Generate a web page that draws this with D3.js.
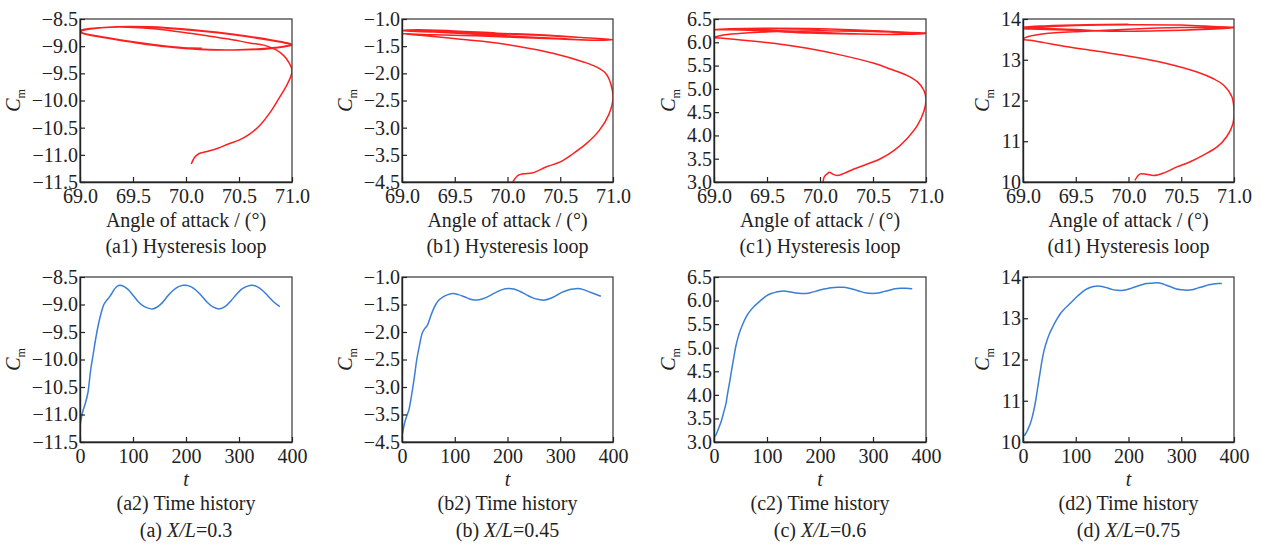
<!DOCTYPE html>
<html>
<head>
<meta charset="utf-8">
<script src="https://cdn.jsdelivr.net/npm/d3@7"></script>
<style>
  body { margin: 0; background: #fff; }
  #chart text { fill: #222; }
</style>
</head>
<body>
<svg id="chart" width="1262" height="547"></svg>
<script>
// ---- tick values / labels ----
const alphaTicks = [69, 69.5, 70, 70.5, 71];
const alphaTickLabels = ["69.0", "69.5", "70.0", "70.5", "71.0"];
const tTicks = [0, 100, 200, 300, 400];
const tTickLabels = ["0", "100", "200", "300", "400"];

const aTicks = [-8.5, -9, -9.5, -10, -10.5, -11, -11.5];
const aTickLabels = ["\u22128.5", "\u22129.0", "\u22129.5", "\u221210.0", "\u221210.5", "\u221211.0", "\u221211.5"];
const bTicks = [-1, -1.5, -2, -2.5, -3, -3.5, -4];
const bTickLabels = ["\u22121.0", "\u22121.5", "\u22122.0", "\u22122.5", "\u22123.0", "\u22123.5", "\u22124.5"];
const cTicks = [6.5, 6, 5.5, 5, 4.5, 4, 3.5, 3];
const cTickLabels = ["6.5", "6.0", "5.5", "5.0", "4.5", "4.0", "3.5", "3.0"];
const dTicks = [14, 13, 12, 11, 10];
const dTickLabels = ["14", "13", "12", "11", "10"];

const panelLetters = ["a", "b", "c", "d"];
const xOverL = ["0.3", "0.45", "0.6", "0.75"];

// ---- hysteresis loops: [angle of attack, Cm] ----
const loopA = [
  [70.05,-11.17],[70.08,-11.05],[70.12,-10.98],[70.2,-10.94],[70.3,-10.88],[70.4,-10.8],[70.5,-10.73],
  [70.6,-10.62],[70.7,-10.45],[70.8,-10.2],[70.88,-9.95],[70.95,-9.72],[70.99,-9.55],[71.0,-9.44],
  [70.97,-9.3],[70.92,-9.17],[70.85,-9.07],[70.75,-8.99],[70.6,-8.94],[70.4,-8.87],[70.2,-8.81],
  [69.95,-8.74],[69.7,-8.68],[69.45,-8.65],[69.2,-8.66],[69.05,-8.7],[69.0,-8.73],
  [69.03,-8.77],[69.19,-8.83],[69.5,-8.93],[69.82,-9.01],[70.13,-9.06],[70.45,-9.07],[70.76,-9.04],[70.93,-9.0],[71.0,-8.97],
  [70.93,-8.93],[70.76,-8.87],[70.45,-8.78],[70.13,-8.71],[69.82,-8.66],[69.5,-8.64],[69.19,-8.66],[69.04,-8.69],[69.0,-8.72],
  [69.03,-8.76],[69.19,-8.82],[69.5,-8.92],[69.82,-9.0],[70.13,-9.05],[70.45,-9.07],[70.76,-9.05],[70.93,-9.01],[71.0,-8.98],
  [70.93,-8.94],[70.76,-8.88],[70.45,-8.79],[70.13,-8.72],[69.82,-8.67],[69.5,-8.64],[69.19,-8.66],[69.04,-8.69],[69.0,-8.73],
  [69.03,-8.77],[69.19,-8.83],[69.5,-8.93],[69.82,-9.01],[70.15,-9.04]
];
const loopB = [
  [70.05,-4.0],[70.1,-3.88],[70.15,-3.85],[70.24,-3.83],[70.37,-3.72],[70.5,-3.63],[70.62,-3.48],
  [70.75,-3.29],[70.87,-3.05],[70.96,-2.76],[71.0,-2.46],[70.98,-2.2],[70.93,-2.0],[70.84,-1.88],
  [70.72,-1.79],[70.43,-1.63],[70.12,-1.51],[69.8,-1.42],[69.49,-1.36],[69.17,-1.3],[69.0,-1.27],
  [69.3,-1.29],[69.7,-1.31],[70.1,-1.34],[70.5,-1.37],[70.8,-1.39],[71.0,-1.38],
  [70.7,-1.34],[70.3,-1.3],[69.9,-1.27],[69.5,-1.23],[69.15,-1.21],[69.0,-1.22],
  [69.3,-1.24],[69.7,-1.28],[70.1,-1.32],[70.5,-1.36],[70.85,-1.39],[71.0,-1.38],
  [70.7,-1.34],[70.3,-1.29],[69.9,-1.26],[69.5,-1.22],[69.15,-1.2],[69.0,-1.21],
  [69.3,-1.23],[69.65,-1.27],[70.0,-1.31]
];
const loopC = [
  [70.03,3.0],[70.04,3.11],[70.07,3.18],[70.09,3.21],[70.12,3.17],[70.16,3.14],[70.22,3.18],[70.32,3.28],
  [70.44,3.38],[70.57,3.5],[70.7,3.68],[70.82,3.93],[70.92,4.22],[70.98,4.52],[71.0,4.76],[70.98,4.97],
  [70.92,5.15],[70.82,5.29],[70.67,5.42],[70.51,5.55],[70.19,5.73],[69.88,5.87],[69.56,5.98],[69.25,6.05],
  [69.06,6.09],[69.0,6.1],
  [69.1,6.16],[69.3,6.2],[69.6,6.23],[70.0,6.25],[70.5,6.23],[70.85,6.2],[71.0,6.19],
  [70.8,6.17],[70.4,6.18],[70.0,6.21],[69.5,6.26],[69.15,6.28],[69.0,6.27],
  [69.15,6.29],[69.5,6.3],[70.0,6.29],[70.5,6.25],[70.85,6.21],[71.0,6.2],
  [70.7,6.17],[70.3,6.18],[69.9,6.2],[69.5,6.24],[69.15,6.27],[69.0,6.27],
  [69.2,6.29],[69.6,6.29],[70.0,6.28]
];
const loopD = [
  [70.06,10.04],[70.08,10.12],[70.11,10.2],[70.17,10.19],[70.24,10.16],[70.33,10.22],[70.46,10.37],
  [70.58,10.49],[70.71,10.66],[70.84,10.86],[70.93,11.11],[70.99,11.43],[71.0,11.76],[70.98,12.09],
  [70.9,12.38],[70.8,12.54],[70.65,12.7],[70.36,12.91],[70.05,13.07],[69.73,13.2],[69.42,13.32],
  [69.2,13.42],[69.07,13.48],[69.0,13.5],
  [69.05,13.57],[69.2,13.64],[69.6,13.7],[70.0,13.75],[70.5,13.79],[70.85,13.79],[71.0,13.78],
  [70.7,13.74],[70.3,13.71],[69.9,13.7],[69.5,13.72],[69.15,13.75],[69.0,13.76],
  [69.15,13.8],[69.5,13.84],[70.0,13.86],[70.5,13.85],[70.85,13.81],[71.0,13.8],
  [70.7,13.75],[70.3,13.71],[69.9,13.7],[69.5,13.74],[69.15,13.78],[69.0,13.8],
  [69.2,13.83],[69.6,13.86],[70.0,13.87]
];

// ---- time histories: [t, Cm] ----
const histA = [
  [0,-11.2],[5,-10.95],[10,-10.8],[15,-10.6],[20,-10.2],[25,-9.9],[30,-9.6],[35,-9.35],[40,-9.15],
  [45,-9.0],[50,-8.93],[55,-8.87],[60,-8.8],[65,-8.72],[70,-8.67],[75,-8.65],[80,-8.66],[90,-8.72],
  [100,-8.83],[110,-8.95],[120,-9.03],[130,-9.07],[137,-9.08],[145,-9.05],[155,-8.97],[165,-8.85],
  [175,-8.75],[185,-8.68],[195,-8.65],[200,-8.65],[210,-8.68],[220,-8.75],[230,-8.85],[240,-8.96],
  [250,-9.04],[262,-9.08],[275,-9.03],[285,-8.93],[295,-8.82],[305,-8.72],[315,-8.67],[325,-8.65],
  [335,-8.68],[345,-8.75],[355,-8.85],[365,-8.95],[377,-9.04]
];
const histB = [
  [0,-3.9],[5,-3.65],[10,-3.5],[13,-3.42],[19,-3.1],[24,-2.78],[28,-2.5],[33,-2.25],[38,-2.03],
  [43,-1.94],[48,-1.88],[53,-1.75],[58,-1.62],[64,-1.5],[70,-1.42],[78,-1.36],[87,-1.32],[97,-1.3],
  [107,-1.32],[118,-1.36],[128,-1.4],[138,-1.42],[148,-1.41],[160,-1.37],[170,-1.32],[180,-1.27],
  [190,-1.23],[201,-1.21],[212,-1.22],[223,-1.26],[235,-1.32],[248,-1.38],[260,-1.41],[270,-1.42],
  [281,-1.39],[292,-1.34],[303,-1.28],[314,-1.24],[324,-1.22],[333,-1.21],[344,-1.23],[355,-1.27],
  [366,-1.31],[377,-1.35]
];
const histC = [
  [2,3.12],[4,3.16],[8,3.27],[14,3.45],[18,3.62],[22.5,3.81],[26,4.05],[30,4.3],[34,4.58],[37.5,4.8],
  [41,5.02],[45.6,5.23],[50,5.38],[55,5.52],[61,5.66],[67.5,5.77],[75,5.87],[83,5.95],[91,6.03],
  [99,6.1],[108,6.15],[117.5,6.18],[127,6.2],[136,6.2],[145,6.18],[155,6.16],[165,6.15],[174,6.15],
  [183,6.17],[192.5,6.2],[202,6.23],[211,6.25],[222,6.27],[233,6.28],[244,6.28],[255,6.26],[266,6.23],
  [277,6.19],[288,6.16],[299,6.15],[310,6.16],[320,6.19],[331,6.22],[342,6.25],[352,6.26],[361,6.26],
  [374,6.25]
];
const histD = [
  [2.5,10.15],[5,10.2],[7.6,10.26],[11,10.36],[13.9,10.45],[17,10.58],[20,10.74],[24,11.0],[27.8,11.31],
  [32,11.65],[36,11.97],[40,12.22],[45.4,12.46],[51,12.65],[58,12.83],[64,12.97],[70.7,13.11],[78,13.22],
  [86.4,13.32],[94,13.42],[102,13.52],[110,13.61],[118,13.69],[126,13.74],[134,13.77],[142,13.78],
  [150,13.77],[159,13.74],[168.5,13.7],[178,13.68],[187,13.67],[196,13.69],[206,13.73],[215,13.77],
  [225,13.81],[234,13.84],[244,13.85],[254,13.86],[263,13.84],[272,13.8],[282,13.75],[291,13.71],
  [301,13.69],[310,13.68],[320,13.69],[331,13.73],[342,13.77],[352,13.81],[361,13.83],[370,13.84],
  [377,13.84]
];

// ---- layout ----
const cols = [[80, 292], [402, 613], [714, 926], [1023, 1234]];
const rows = [[19, 182], [277, 442]];
const panels = [
  { loop: loopA, hist: histA, dom: [-11.5, -8.5], ticks: aTicks, labels: aTickLabels },
  { loop: loopB, hist: histB, dom: [-4, -1],      ticks: bTicks, labels: bTickLabels },
  { loop: loopC, hist: histC, dom: [3, 6.5],      ticks: cTicks, labels: cTickLabels },
  { loop: loopD, hist: histD, dom: [10, 14],      ticks: dTicks, labels: dTickLabels }
];

const svg = d3.select("#chart");
const serif = "'Liberation Serif', 'Times New Roman', serif";
const tickFont = 20, titleFont = 20;

function addText(sel) {
  return sel.append("text").style("font-family", serif).style("fill", "#222");
}

function drawPlot(col, row, xDom, xTicks, xLabels, p, data, color) {
  let [x0, x1] = cols[col];
  let [y0, y1] = rows[row];
  let x = d3.scaleLinear().domain(xDom).range([x0, x1]);
  let y = d3.scaleLinear().domain(p.dom).range([y1, y0]);
  let g = svg.append("g");

  let clipId = "clip" + col + "_" + row;
  g.append("clipPath").attr("id", clipId)
    .append("rect").attr("x", x0).attr("y", y0).attr("width", x1 - x0).attr("height", y1 - y0);

  let line = d3.line()
    .x(d => x(d[0]))
    .y(d => y(d[1]))
    .curve(d3.curveCatmullRom.alpha(0.5));
  g.append("path")
    .attr("d", line(data))
    .attr("clip-path", "url(#" + clipId + ")")
    .attr("fill", "none")
    .attr("stroke", color)
    .attr("stroke-width", 1.5);

  // frame
  g.append("rect")
    .attr("x", x0).attr("y", y0).attr("width", x1 - x0).attr("height", y1 - y0)
    .attr("fill", "none").attr("stroke", "#444").attr("stroke-width", 1.3);

  let xAxis = d3.axisBottom(x).tickValues(xTicks)
    .tickFormat((d, i) => xLabels[i])
    .tickSizeInner(-5).tickSizeOuter(0).tickPadding(7);
  let gx = g.append("g").attr("transform", `translate(0,${y1})`).call(xAxis);

  let yAxis = d3.axisLeft(y).tickValues(p.ticks)
    .tickFormat((d, i) => p.labels[i])
    .tickSizeInner(-5).tickSizeOuter(0).tickPadding(2);
  let gy = g.append("g").attr("transform", `translate(${x0},0)`).call(yAxis);

  for (let ax of [gx, gy]) {
    ax.attr("font-size", tickFont);
    ax.select(".domain").attr("stroke", "#222").attr("stroke-width", 1.4);
    ax.selectAll(".tick line").attr("stroke", "#222").attr("stroke-width", 1.2);
    ax.selectAll("text")
      .style("font-family", serif)
      .style("font-size", tickFont + "px")
      .style("fill", "#222");
  }

  // Cm label left of the widest tick label
  let maxW = 0;
  gy.selectAll("text").each(function() {
    maxW = Math.max(maxW, this.getComputedTextLength());
  });
  let lx = x0 - 2 - maxW - 12;
  let ly = (y0 + y1) / 2;
  let lab = addText(g)
    .attr("transform", `translate(${lx},${ly}) rotate(-90)`)
    .attr("text-anchor", "middle")
    .attr("font-size", titleFont);
  lab.append("tspan").attr("font-style", "italic").text("C");
  lab.append("tspan").attr("font-size", 12).attr("dy", 5).text("m");
  return { cx: (x0 + x1) / 2 };
}

panels.forEach((p, i) => {
  let letter = panelLetters[i];
  let top = drawPlot(i, 0, [69, 71], alphaTicks, alphaTickLabels, p, p.loop, "#ff1f1f");
  addText(svg).attr("x", top.cx).attr("y", 227)
    .attr("text-anchor", "middle").attr("font-size", titleFont)
    .text("Angle of attack / (\u00b0)");
  addText(svg).attr("x", top.cx).attr("y", 253)
    .attr("text-anchor", "middle").attr("font-size", titleFont)
    .text("(" + letter + "1) Hysteresis loop");

  let bot = drawPlot(i, 1, [0, 400], tTicks, tTickLabels, p, p.hist, "#3a7fd5");
  addText(svg).attr("x", bot.cx).attr("y", 486)
    .attr("text-anchor", "middle").attr("font-size", titleFont)
    .attr("font-style", "italic").text("t");
  addText(svg).attr("x", bot.cx).attr("y", 510)
    .attr("text-anchor", "middle").attr("font-size", titleFont)
    .text("(" + letter + "2) Time history");
  let cap = addText(svg).attr("x", bot.cx).attr("y", 537)
    .attr("text-anchor", "middle").attr("font-size", titleFont);
  cap.append("tspan").text("(" + letter + ") ");
  cap.append("tspan").attr("font-style", "italic").text("X/L");
  cap.append("tspan").text("=" + xOverL[i]);
});
</script>
</body>
</html>
